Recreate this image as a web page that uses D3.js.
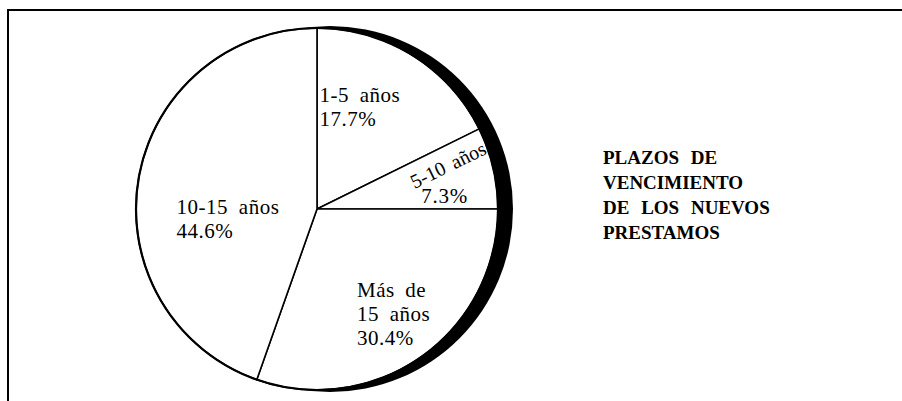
<!DOCTYPE html>
<html>
<head>
<meta charset="utf-8">
<script src="https://cdn.jsdelivr.net/npm/d3@7"></script>
</head>
<body style="margin:0">
<script>
// slices in clockwise order, starting at the top
const categories = ["1-5 años", "5-10 años", "Más de 15 años", "10-15 años"];
const shares = [17.7, 7.3, 30.4, 44.6];
const labelLines = [["1-5 años"], ["5-10 años"], ["Más de", "15 años"], ["10-15 años"]];
const titleLines = ["PLAZOS DE", "VENCIMIENTO", "DE LOS NUEVOS", "PRESTAMOS"];

const width = 902, height = 401;
const cx = 317, cy = 209, radius = 181;
const serif = "'Liberation Serif'";

const svg = d3.select("body").append("svg")
    .attr("width", width)
    .attr("height", height);

// frame (top and left edges only)
svg.append("path")
    .attr("d", "M8,401 V10 H902")
    .attr("fill", "none")
    .attr("stroke", "#000")
    .attr("stroke-width", 2);

const data = categories.map((c, i) => ({ name: c, value: shares[i], lines: labelLines[i] }));

const pie = d3.pie()
    .value(d => d.value)
    .sort(null);

const arcs = pie(data);

const arc = d3.arc()
    .innerRadius(0)
    .outerRadius(radius);

const labelArc = d3.arc()
    .innerRadius(109)
    .outerRadius(109);

// black shadow behind the disc
svg.append("path")
    .attr("transform", "translate(" + (cx + 13) + "," + cy + ")")
    .attr("d", d3.arc()({ innerRadius: 0, outerRadius: radius + 2, startAngle: 0, endAngle: 2 * Math.PI }))
    .attr("fill", "#000");

const g = svg.append("g")
    .attr("transform", "translate(" + cx + "," + cy + ")");

g.selectAll("path.slice")
    .data(arcs)
    .enter()
    .append("path")
        .attr("class", "slice")
        .attr("d", arc)
        .attr("fill", "#fff")
        .attr("stroke", "#000")
        .attr("stroke-width", 1.6)
        .attr("stroke-linejoin", "round");

// outer rim a bit heavier
g.append("circle")
    .attr("r", radius)
    .attr("fill", "none")
    .attr("stroke", "#000")
    .attr("stroke-width", 2.2);

const fmt = d => d3.format(".1f")(d) + "%";

// label nudges from the centroid, per slice
const shift = [[-55, -14], [0, 0], [-23, -1], [-33, 23]];
const lineGap = 24;

arcs.forEach((a, i) => {
    const [x, y] = labelArc.centroid(a);
    if (i === 1) {
        // narrow slice: name tilted along the slice, value level
        g.append("text")
            .attr("transform", "translate(" + (x + 28) + "," + (y - 13) + ") rotate(-26)")
            .attr("text-anchor", "middle")
            .style("font-family", serif)
            .attr("font-size", 20)
            .style("word-spacing", "3px")
            .text(a.data.lines[0]);
        g.append("text")
            .attr("x", x - 2)
            .attr("y", y + 19)
            .style("font-family", serif)
            .attr("font-size", 21)
            .style("letter-spacing", "0.8px")
            .text(fmt(a.data.value));
        return;
    }
    const t = g.append("text")
        .attr("x", x + shift[i][0])
        .attr("y", y + shift[i][1])
        .style("font-family", serif)
        .attr("font-size", 21)
        .style("word-spacing", "5px")
        .style("letter-spacing", "0.5px");
    a.data.lines.concat([fmt(a.data.value)]).forEach((line, j) => {
        t.append("tspan")
            .attr("x", x + shift[i][0])
            .attr("dy", j === 0 ? 0 : lineGap)
            .text(line);
    });
});

// title block at the right
const title = svg.append("text")
    .attr("x", 603)
    .attr("y", 164)
    .style("font-family", serif)
    .attr("font-size", 19)
    .attr("font-weight", "bold")
    .style("word-spacing", "7px");

titleLines.forEach((line, j) => {
    title.append("tspan")
        .attr("x", 603)
        .attr("dy", j === 0 ? 0 : 25)
        .text(line);
});
</script>
</body>
</html>
